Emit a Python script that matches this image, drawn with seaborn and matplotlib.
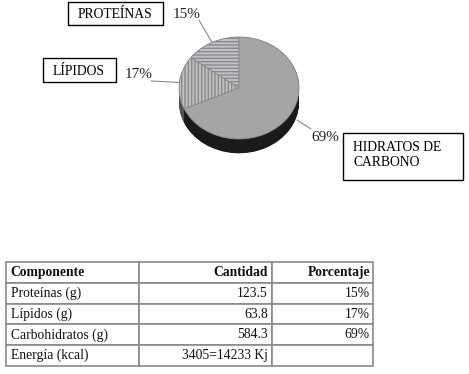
import numpy as np
import matplotlib
matplotlib.use("Agg")
import matplotlib.pyplot as plt
from matplotlib.patches import Rectangle
import seaborn as sns

# ---- data ----
components = ["PROTEÍNAS", "LÍPIDOS", "HIDRATOS DE\nCARBONO"]
percents = [15, 17, 69]
pct_labels = ["15%", "17%", "69%"]

table_header = ["Componente", "Cantidad", "Porcentaje"]
table_names = ["Proteínas (g)", "Lípidos (g)", "Carbohidratos (g)", "Energía (kcal)"]
table_amounts = ["123.5", "63.8", "584.3", "3405=14233 Kj"]
table_pcts = ["15%", "17%", "69%", ""]

sns.set_theme(style="white")
plt.rcParams["font.family"] = ["Liberation Serif", "DejaVu Serif"]
plt.rcParams["hatch.color"] = "#8c8c8c"

W, H = 469, 374
fig = plt.figure(figsize=(W / 100, H / 100), dpi=100)
fig.patch.set_facecolor("white")

# pie axes: radius 1 -> 60 px horizontally, 51 px vertically, centre at (239, 88)
cx, cy, rx, ry = 239, 88, 60, 51
axp = fig.add_axes([(cx - 1.5 * rx) / W, (H - cy - 1.5 * ry) / H, 3 * rx / W, 3 * ry / H])

top_colors = ["#c4c0c8", "#c0c0c0", "#a5a5a5"]
side_colors = ["#3a3a3a", "#505050", "#1a1a1a"]
hatches = ["-----", "|||||", None]
depth = 0.28

# extruded side
for d in np.linspace(depth, 0.0, 30):
    axp.pie(percents, startangle=90, counterclock=True, colors=side_colors,
            center=(0, -d), radius=1, wedgeprops=dict(linewidth=0))
# top face
wedges, _ = axp.pie(percents, startangle=90, counterclock=True, colors=top_colors,
                    center=(0, 0), radius=1,
                    wedgeprops=dict(linewidth=0.6, edgecolor="#8a8a8a"))
for w, h in zip(wedges, hatches):
    if h:
        w.set_hatch(h)
axp.set_aspect("auto")
axp.set_xlim(-1.5, 1.5)
axp.set_ylim(-1.5, 1.5)
axp.axis("off")

# overlay axes in pixel coordinates
axo = fig.add_axes([0, 0, 1, 1], facecolor="none")
axo.set_xlim(0, W)
axo.set_ylim(H, 0)
axo.axis("off")

# leader lines and percent labels
total = sum(percents)
start = 90.0
anchors = []
for p in percents:
    ang = start + 360 * p / total / 2
    anchors.append(ang)
    start += 360 * p / total
label_pos = [(187, 14), (139, 74), (325, 137)]
line_end = [(199, 20), (151, 81), (311, 129)]
for i, (ang, lp, le) in enumerate(zip(anchors, label_pos, line_end)):
    a = np.deg2rad(ang)
    px = cx + rx * np.cos(a)
    py = cy - ry * np.sin(a)
    if i == 2:
        px, py = 297, 120
    axo.plot([px, le[0]], [py, le[1]], color="#8a8a8a", lw=0.8)
    axo.text(lp[0], lp[1], pct_labels[i], ha="center", va="center", fontsize=11,
             color="#222222")

# category boxes
boxes = [(68, 2, 95, 23), (43, 58, 73, 24), (343, 133, 120, 47)]
text_pos = [(78, 14.5, "left"), (53, 71, "left"), (353, 155, "left")]
for (bx, by, bw, bh), (tx, ty, ha), name in zip(boxes, text_pos, components):
    axo.add_patch(Rectangle((bx, by), bw, bh, facecolor="white", edgecolor="black", lw=1))
    axo.text(tx, ty, name, ha=ha, va="center", fontsize=9.8, family="Liberation Serif",
             color="black", linespacing=1.25)

# table
axt = fig.add_axes([6 / W, (H - 366) / H, 367 / W, 104 / H])
axt.axis("off")
cell_text = [[n, a, p] for n, a, p in zip(table_names, table_amounts, table_pcts)]
tbl = axt.table(cellText=cell_text, colLabels=table_header, bbox=[0, 0, 1, 1],
                colWidths=[133, 133, 101], cellLoc="right")
tbl.auto_set_font_size(False)
tbl.set_fontsize(9.8)
for (r, c), cell in tbl.get_celld().items():
    cell.set_edgecolor("#8a8a8a")
    cell.set_linewidth(1.2)
    cell.set_facecolor("white")
    t = cell.get_text()
    t.set_color("#111111")
    t.set_ha("left" if c == 0 else "right")
    cell.PAD = 0.035 if c == 0 else 0.03
    if r == 0:
        t.set_fontweight("bold")

fig.savefig("out.png", dpi=100, facecolor="white")
